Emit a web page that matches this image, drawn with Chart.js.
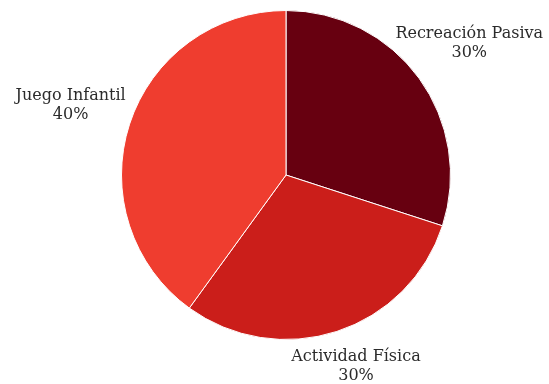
<!DOCTYPE html>
<html>
<head>
<meta charset="utf-8">
<script src="https://cdn.jsdelivr.net/npm/chart.js@4"></script>
<style>
  html, body { margin: 0; padding: 0; background: #fff; }
  #wrap { width: 549px; height: 384px; position: relative; }
</style>
</head>
<body>
<div id="wrap"><canvas id="uso-suelo"></canvas></div>
<script>
const categories = ['Recreación Pasiva', 'Actividad Física', 'Juego Infantil'];
const shares = [30, 30, 40];
const sliceColors = ['#670010', '#CB1E1A', '#EF3D2F'];

const labelFont = "16px 'DejaVu Serif', serif";
const textColor = '#2b2b2b';

// draws name + percent outside each slice
const outsideLabels = {
  id: 'outsideLabels',
  afterDraw(chart) {
    const ctx = chart.ctx;
    const meta = chart.getDatasetMeta(0);
    const total = shares.reduce((a, b) => a + b, 0);
    ctx.save();
    ctx.font = labelFont;
    ctx.fillStyle = textColor;
    ctx.textAlign = 'center';
    ctx.textBaseline = 'middle';
    meta.data.forEach((arc, i) => {
      const mid = (arc.startAngle + arc.endAngle) / 2;
      const r = arc.outerRadius;
      let x = arc.x + Math.cos(mid) * (r + 62);
      let y = arc.y + Math.sin(mid) * (r + 60);
      const w = ctx.measureText(categories[i]).width;
      x = Math.min(Math.max(x, w / 2 + 4), chart.width - w / 2 - 4);
      y = Math.min(Math.max(y, 24), chart.height - 18);
      const pct = Math.round(shares[i] / total * 100) + '%';
      ctx.fillText(categories[i], x, y - 9.5);
      ctx.fillText(pct, x, y + 9.5);
    });
    ctx.restore();
  }
};

new Chart(document.getElementById('uso-suelo'), {
  type: 'pie',
  data: {
    labels: categories,
    datasets: [{
      data: shares,
      backgroundColor: sliceColors,
      borderColor: '#fff',
      borderWidth: 1,
    }],
  },
  options: {
    responsive: true,
    maintainAspectRatio: false,
    animation: false,
    layout: {
      padding: { top: 10, bottom: 44, left: 121, right: 98 },
    },
    plugins: {
      legend: { display: false },
      tooltip: { enabled: false },
    },
  },
  plugins: [outsideLabels],
});
</script>
</body>
</html>
